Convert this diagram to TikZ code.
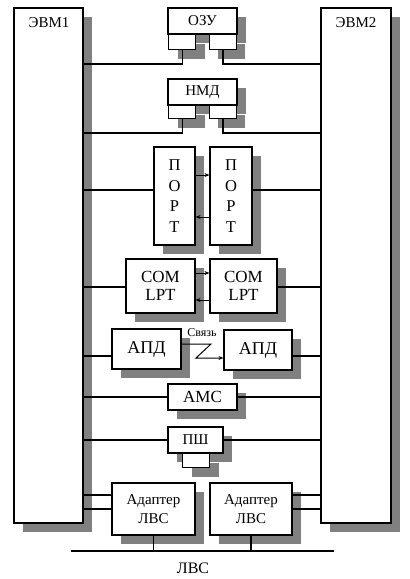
\documentclass[tikz,border=0pt]{standalone}
\usepackage{fontspec}
\setmainfont{Liberation Serif}
\usetikzlibrary{shadows,arrows.meta}
\definecolor{shd}{HTML}{808080}
\tikzset{
  box/.style={draw=black, fill=white, line width=1.1pt, inner sep=0pt,
    drop shadow={shadow xshift=9pt, shadow yshift=-9pt, fill=shd, opacity=1}},
  wire/.style={line width=1.1pt},
  arr/.style={line width=1pt, -{Stealth[length=5pt,width=4pt]}},
  lbl/.style={inner sep=0pt, font=\fontsize{15}{17}\selectfont}
}
\begin{document}
\begin{tikzpicture}[x=1pt,y=-1pt]
\useasboundingbox (0,0) rectangle (410,579);
% computers
\node[box, minimum width=69, minimum height=515] (evm1) at (48.5,265.5) {};
\node[box, minimum width=70, minimum height=515] (evm2) at (356,265.5) {};
\node[lbl] (evm1t) at (49,23) {ЭВМ1};
\node[lbl] (evm2t) at (356,23) {ЭВМ2};
% OZU
\node[box, minimum width=69, minimum height=26, font=\fontsize{15}{17}\selectfont] (ozu) at (202.5,21) {ОЗУ};
\node[box, minimum width=27, minimum height=15, anchor=north west] (ozuL) at (168,34) {};
\node[box, minimum width=27, minimum height=15, anchor=north east] (ozuR) at (237,34) {};
% NMD
\node[box, minimum width=69, minimum height=26, font=\fontsize{15}{17}\selectfont] (nmd) at (202.5,92) {НМД};
\node[box, minimum width=27, minimum height=13, anchor=north west] (nmdL) at (168,105) {};
\node[box, minimum width=27, minimum height=13, anchor=north east] (nmdR) at (237,105) {};
% PORT
\node[box, minimum width=41, minimum height=98, align=center, font=\fontsize{16.5}{20.5}\selectfont] (port1) at (174.5,196) {П\\О\\Р\\Т};
\node[box, minimum width=42, minimum height=98, align=center, font=\fontsize{16.5}{20.5}\selectfont] (port2) at (231,196) {П\\О\\Р\\Т};
% COM LPT
\node[box, minimum width=69, minimum height=54, align=center, font=\fontsize{17}{18.5}\selectfont] (com1) at (160.5,286) {COM\\LPT};
\node[box, minimum width=67, minimum height=54, align=center, font=\fontsize{17}{18.5}\selectfont] (com2) at (243.5,286) {COM\\LPT};
% Svyaz label
\node[inner sep=0pt, font=\fontsize{12}{14}\selectfont] (sv) at (202,333) {Связь};
% APD
\node[box, minimum width=69, minimum height=40, font=\fontsize{18}{20}\selectfont] (apd1) at (146.5,349) {АПД};
\node[box, minimum width=68, minimum height=40, font=\fontsize{18}{20}\selectfont] (apd2) at (258,350) {АПД};
% AMS
\node[box, minimum width=69, minimum height=26, font=\fontsize{17}{19}\selectfont] (ams) at (202.5,397) {АМС};
% PSh
\node[box, minimum width=55, minimum height=26, font=\fontsize{15}{18}\selectfont] (psh) at (195.5,440) {ПШ};
\node[box, minimum width=27, minimum height=14, anchor=north west] (pshS) at (182,453) {};
% adapters
\node[box, minimum width=83, minimum height=52, align=center, font=\fontsize{15}{19}\selectfont] (ad1) at (153.5,509) {Адаптер\\ЛВС};
\node[box, minimum width=82, minimum height=52, align=center, font=\fontsize{15}{19}\selectfont] (ad2) at (251,509) {Адаптер\\ЛВС};
% level coordinates
\coordinate (y64) at (0,64);
\coordinate (y133) at (0,133);
\coordinate (y190) at (0,190);
\coordinate (y287) at (0,287);
\coordinate (y356) at (0,356);
\coordinate (y397) at (0,397);
\coordinate (y440) at (0,440);
\coordinate (y495) at (0,495);
\coordinate (y509) at (0,509);
\coordinate (busL) at (71,551);
\coordinate (busR) at (334,551);
\coordinate (zz1) at (211,344);
\coordinate (zz2) at (196,358);
% wires
\draw[wire] (ozuL.south) |- (evm1.east |- y64);
\draw[wire] (ozuR.south) |- (evm2.west |- y64);
\draw[wire] (nmdL.south) |- (evm1.east |- y133);
\draw[wire] (nmdR.south) |- (evm2.west |- y133);
\draw[wire] (evm1.east |- y190) -- (port1.west |- y190);
\draw[wire] (port2.east |- y190) -- (evm2.west |- y190);
\draw[arr] ([yshift=21pt]port1.east) -- ([yshift=21pt]port2.west);
\draw[arr] ([yshift=-21pt]port2.west) -- ([yshift=-21pt]port1.east);
\draw[wire] (evm1.east |- y287) -- (com1.west |- y287);
\draw[wire] (com2.east |- y287) -- (evm2.west |- y287);
\draw[arr] ([yshift=13pt]com1.east) -- ([yshift=13pt]com2.west);
\draw[arr] ([yshift=-14pt]com2.west) -- ([yshift=-14pt]com1.east);
\draw[wire] (evm1.east |- y356) -- (apd1.west |- y356);
\draw[wire] (apd2.east |- y356) -- (evm2.west |- y356);
\draw[arr] ([yshift=5pt]apd1.east) -- (zz1) -- (zz2) -- ([yshift=-8pt]apd2.west);
\draw[wire] (evm1.east |- y397) -- (ams.west);
\draw[wire] (ams.east) -- (evm2.west |- y397);
\draw[wire] (evm1.east |- y440) -- (psh.west);
\draw[wire] (psh.east) -- (evm2.west |- y440);
\draw[wire] (evm1.east |- y495) -- (ad1.west |- y495);
\draw[wire] (evm1.east |- y509) -- (ad1.west |- y509);
\draw[wire] (ad2.east |- y495) -- (evm2.west |- y495);
\draw[wire] (ad2.east |- y509) -- (evm2.west |- y509);
\draw[wire] (busL) -- (busR);
\draw[wire] (ad1.south) -- (ad1.south |- busL);
\draw[wire] (ad2.south) -- (ad2.south |- busL);
\node[lbl, font=\fontsize{16}{18}\selectfont] (lvs) at (193,568) {ЛВС};
\end{tikzpicture}
\end{document}
